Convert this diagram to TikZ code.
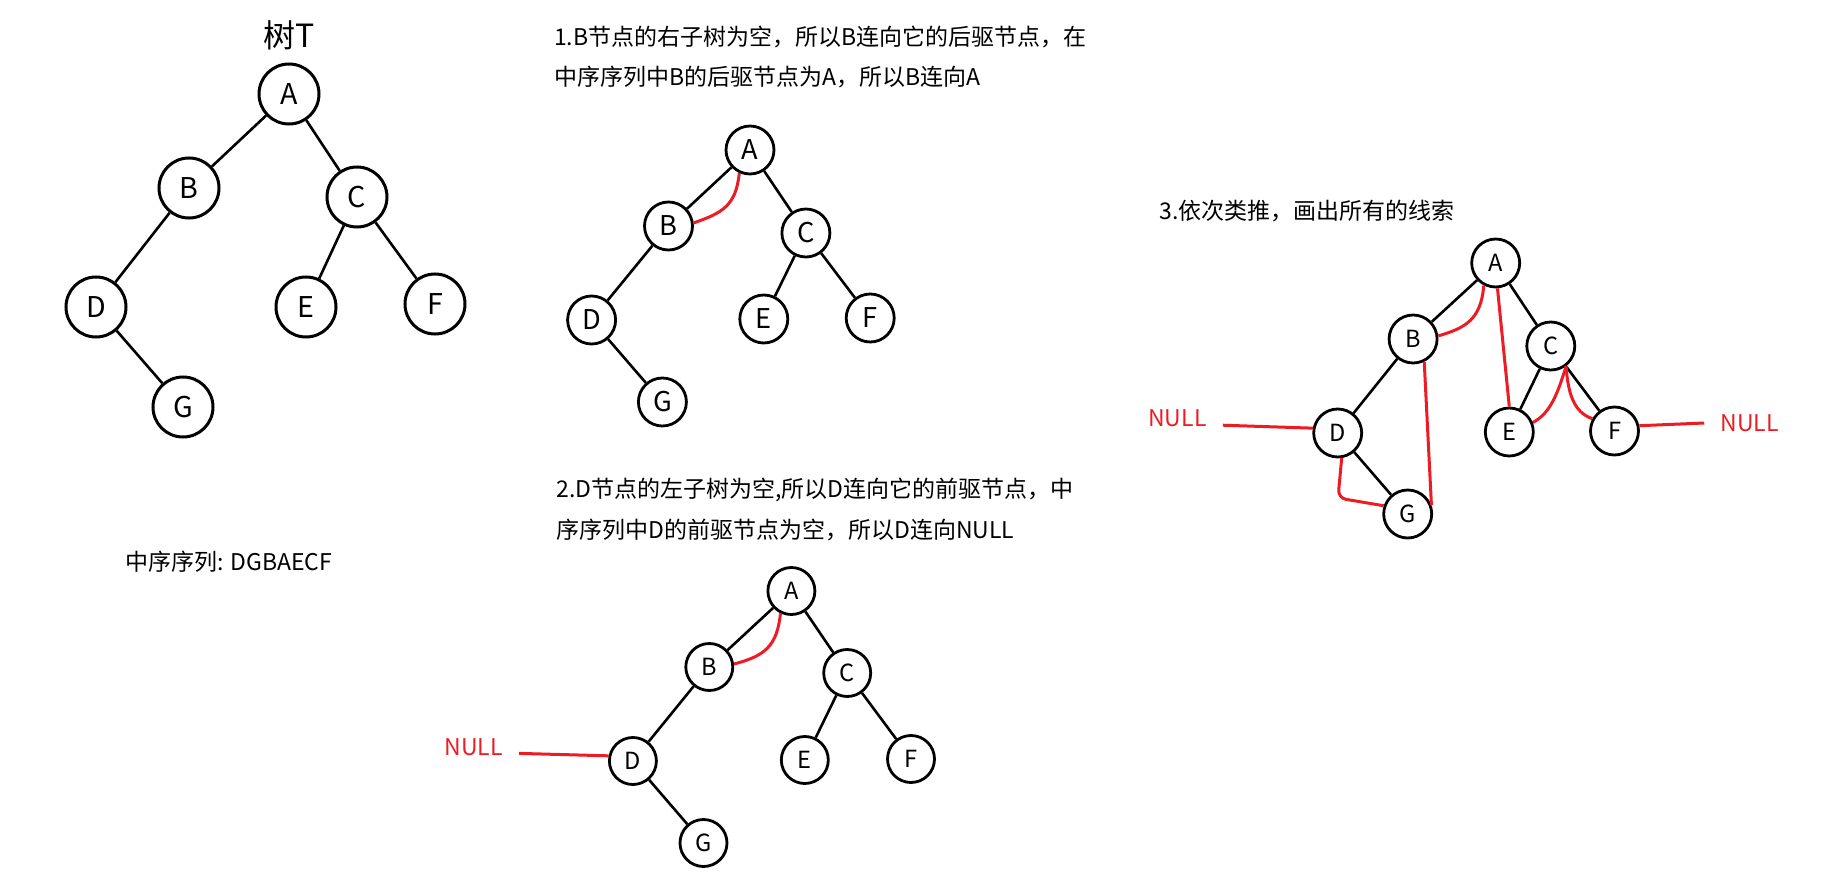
\documentclass[tikz,border=0pt]{standalone}
\usepackage{fontspec}
\setmainfont{Noto Sans CJK SC}
\definecolor{paintred}{RGB}{237,28,36}

\begin{document}
\begin{tikzpicture}[x=0.5pt,y=0.5pt,yscale=-1,
  bignode/.style={draw,circle,line width=1.5pt,inner sep=0pt,minimum size=30pt,font=\fontsize{14.3}{16}\selectfont},
  midnode/.style={draw,circle,line width=1.4pt,inner sep=0pt,minimum size=24pt,font=\fontsize{13.6}{15}\selectfont},
  smallnode/.style={draw,circle,line width=1.4pt,inner sep=0pt,minimum size=23.5pt,font=\fontsize{11.8}{13}\selectfont},
  edge/.style={line width=1.3pt},
  thread/.style={draw=paintred,line width=1.5pt},
  nulltext/.style={text=paintred,inner sep=0pt,inner xsep=8pt,font=\fontsize{11.5}{13}\selectfont},
  note/.style={anchor=west,inner sep=0pt,align=left}]
\useasboundingbox (0,0) rectangle (1838,872);
%tree T
\node[font=\fontsize{16}{18}\selectfont] (title) at (289,35) {树T};
\foreach \n/\x/\y in {A/289/94,B/189/188,C/357/197,D/96/307,E/306/307,F/435/304,G/183/407}
  \node[bignode] (\n) at (\x,\y) {\n};
\foreach \p/\c in {A/B,A/C,B/D,C/E,C/F,D/G}
  \draw[edge] (\p) -- (\c);
\node[note,font=\fontsize{11.5}{13}\selectfont] (inorder) at (125,562) {中序序列: DGBAECF};
%step 1
\node[note,font=\fontsize{11.5}{20}\selectfont] (step1) at (553.7,57) {1.B节点的右子树为空，所以B连向它的后驱节点，在\\中序序列中B的后驱节点为A，所以B连向A};
\foreach \n/\x/\y in {A/750/150,B/668.5/226,C/805.9/233,D/591.6/320,E/763.8/319,F/870.2/318,G/662.4/402}
  \node[midnode] (\n1) at (\x,\y) {\n};
\foreach \p/\c in {A/B,A/C,B/D,C/E,C/F,D/G}
  \draw[edge] (\p1) -- (\c1);
\draw[thread] (A1.245) .. controls (736,206) and (722,213) .. (B1.7);
%step 2
\node[note,font=\fontsize{11.5}{20.5}\selectfont] (step2) at (556.2,509.5) {2.D节点的左子树为空,所以D连向它的前驱节点，中\\序序列中D的前驱节点为空，所以D连向NULL};
\foreach \n/\x/\y in {A/791.4/591,B/709.3/667,C/847.2/673,D/632.9/761,E/804.8/760,F/911/759,G/703.5/843}
  \node[smallnode] (\n2) at (\x,\y) {\n};
\foreach \p/\c in {A/B,A/C,B/D,C/E,C/F,D/G}
  \draw[edge] (\p2) -- (\c2);
\draw[thread] (A2.244) .. controls (777,646) and (765,656) .. (B2.7);
\node[nulltext] (null2) at (473.6,747) {NULL};
\draw[thread] (null2.-8) -- (D2.168);
%step 3
\node[note,font=\fontsize{11.5}{13}\selectfont] (step3) at (1159.3,211) {3.依次类推，画出所有的线索};
\foreach \n/\x/\y in {A/1495.7/263,B/1413.1/339,C/1550.8/346,D/1337.7/433,E/1509.3/432,F/1614.5/431,G/1407.7/514}
  \node[smallnode,minimum size=24pt] (\n3) at (\x,\y) {\n};
\foreach \p/\c in {A/B,A/C,B/D,C/E,C/F,D/G}
  \draw[edge] (\p3) -- (\c3);
\node[nulltext] (null3l) at (1177.4,418) {NULL};
\node[nulltext] (null3r) at (1749.7,423) {NULL};
\draw[thread] (A3.242) .. controls (1481,320) and (1465,328) .. (B3.7);
\draw[thread] (A3.274) -- (E3.north);
\draw[thread] (B3.296) -- (G3.21);
\draw[thread,rounded corners=4pt] (D3.279) -- (1338,498) -- (G3.161);
\draw[thread] (C3.307) .. controls (1558,392) and (1551,413) .. (E3.22);
\draw[thread] (C3.307) .. controls (1568,392) and (1573,412) .. (F3.151);
\draw[thread] (null3l.-9) -- (D3.169);
\draw[thread] (F3.12) -- (null3r.west);
\end{tikzpicture}
\end{document}
